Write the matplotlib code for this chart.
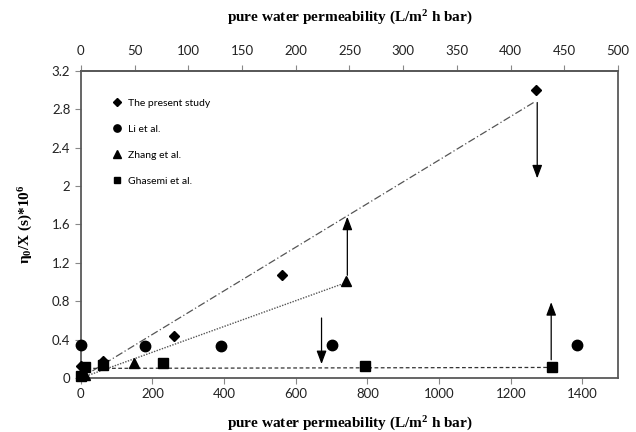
import matplotlib
matplotlib.use("Agg")
import matplotlib.pyplot as plt
import numpy as np

plt.rcParams['font.family'] = ['Lato', 'DejaVu Sans']
plt.rcParams['mathtext.fontset'] = 'custom'
plt.rcParams['mathtext.rm'] = 'Liberation Serif:bold'
plt.rcParams['mathtext.bf'] = 'Liberation Serif:bold'
plt.rcParams['mathtext.it'] = 'Liberation Serif:bold'

# data
present_x = [0, 61, 260, 563, 1270]
present_y = [0.125, 0.18, 0.44, 1.07, 3.0]
li_x = [0, 178, 390, 700, 1386]
li_y = [0.34, 0.33, 0.33, 0.34, 0.34]
zhang_x = [12, 148, 739]
zhang_y = [0.03, 0.16, 1.01]
ghasemi_x = [0, 11, 62, 229, 792, 1316]
ghasemi_y = [0.02, 0.11, 0.14, 0.16, 0.12, 0.11]

# trend lines
trend_dashdot = ([0, 1266], [0, 2.875])
trend_dotted = ([0, 730], [0, 0.98])
trend_dashed = ([0, 1310], [0.1, 0.11])

# arrows (x, y_start, y_end)
arrows = [(1274, 2.87, 2.08), (744, 1.07, 1.68), (672, 0.625, 0.145), (1313, 0.19, 0.79)]

fig = plt.figure(figsize=(6.36, 4.32), dpi=100)
ax = fig.add_axes([0.127, 0.125, 0.845, 0.711])

ax.plot(*trend_dashdot, color='#555555', lw=0.9, dashes=(6, 2, 1, 2))
ax.plot(*trend_dotted, color='#555555', lw=1.0, ls=(0, (1, 1)))
ax.plot(*trend_dashed, color='#333333', lw=0.9, ls=(0, (3, 2)))

for x, y0, y1 in arrows:
    ax.annotate('', xy=(x, y1), xytext=(x, y0),
                arrowprops=dict(arrowstyle='-|>,head_width=0.3,head_length=0.8',
                                color='black', lw=0.9, shrinkA=0, shrinkB=0))

ax.plot(ghasemi_x, ghasemi_y, 's', color='black', ms=6.5, ls='none', clip_on=False, zorder=4, label='Ghasemi et al.')
ax.plot(li_x, li_y, 'o', color='black', ms=7.5, ls='none', clip_on=False, zorder=4, label='Li et al.')
ax.plot(zhang_x, zhang_y, '^', color='black', ms=7.5, ls='none', clip_on=False, zorder=4, label='Zhang et al.')
ax.plot(present_x, present_y, 'D', color='black', ms=5.5, ls='none', clip_on=False, zorder=4, label='The present study')

ax.set_xlim(0, 1500)
ax.set_ylim(0, 3.2)
ax.set_xticks(np.arange(0, 1401, 200))
ax.set_yticks(np.arange(0, 3.21, 0.4))
ax.set_yticklabels(['%g' % round(v, 1) for v in np.arange(0, 3.21, 0.4)])

for s in ax.spines.values():
    s.set_color('#595959')
    s.set_linewidth(1.3)
ax.tick_params(labelsize=9.5, color='#888888', length=4, labelcolor='#222222')

sec = ax.secondary_xaxis('top', functions=(lambda x: x / 3, lambda x: x * 3))
sec.set_xticks(np.arange(0, 501, 50))
sec.tick_params(labelsize=9.5, color='#888888', length=4, labelcolor='#222222', pad=6)
sec.spines['top'].set_color('#595959')
sec.spines['top'].set_linewidth(1.3)

label_font = dict(family='Liberation Serif', weight='bold', size=11)
ax.set_xlabel('pure water permeability (L/m$^2$ h bar)', fontdict=label_font, labelpad=10)
sec.set_xlabel('pure water permeability (L/m$^2$ h bar)', fontdict=label_font, labelpad=17)
ax.set_ylabel('η$_0$/X (s)*10$^6$', fontdict=label_font, labelpad=12)

handles, labels = ax.get_legend_handles_labels()
order = [3, 1, 2, 0]
ax.legend([handles[i] for i in order], [labels[i] for i in order],
          loc='upper left', bbox_to_anchor=(0.04, 0.94), frameon=False,
          fontsize=7.5, labelspacing=1.6, handletextpad=0.6, markerscale=0.7,
          handlelength=1.0)

fig.savefig('out.png', dpi=100)
